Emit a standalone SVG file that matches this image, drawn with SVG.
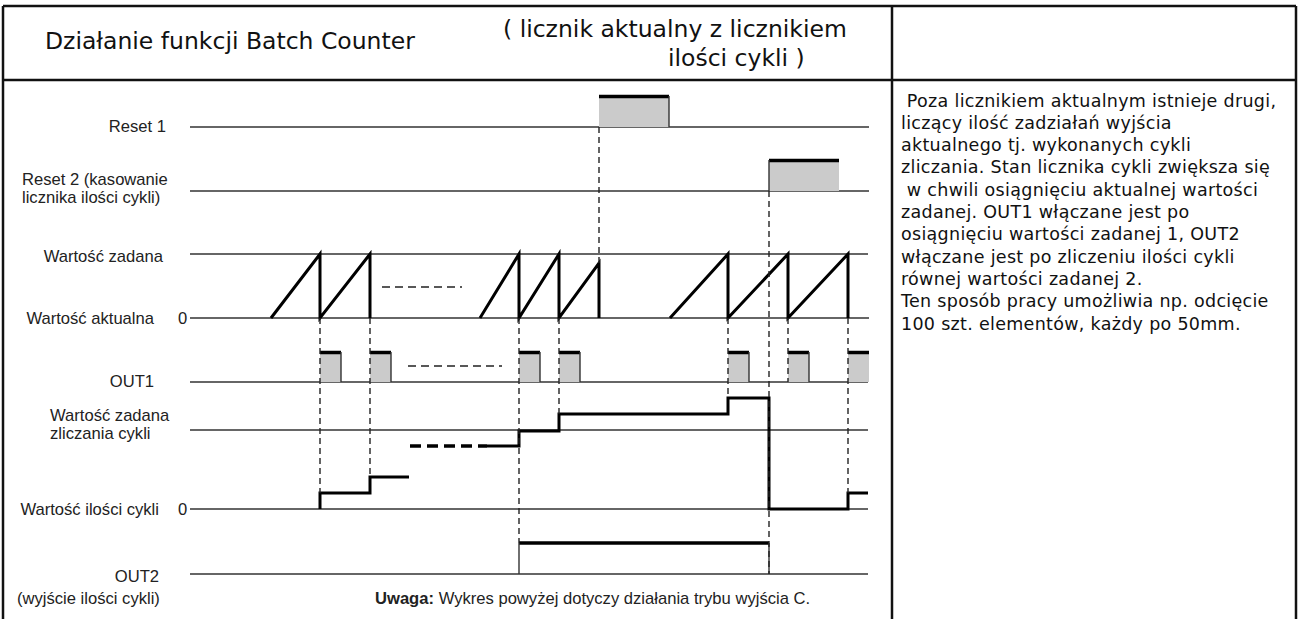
<svg xmlns="http://www.w3.org/2000/svg" width="1304" height="619" viewBox="0 0 1304 619">
<style>
.frame{stroke:#111;stroke-width:2.5;fill:none}
.axis{stroke:#333;stroke-width:1.5;fill:none}
.wave{stroke:#000;stroke-width:3;fill:none;stroke-linejoin:miter}
.thin{stroke:#222;stroke-width:1.4;fill:none;stroke-dasharray:8 5}
.tdash{stroke:#000;stroke-width:3.5;fill:none;stroke-dasharray:11 6}
.dash{stroke:#222;stroke-width:1.4;fill:none;stroke-dasharray:6 4}
.pfill{fill:#cbcbcb}
.ptop{stroke:#000;stroke-width:3.5}
.pedge{stroke:#333;stroke-width:1.4}
.lbl{font-family:"Liberation Sans",Arial,sans-serif;font-size:16.6px;fill:#222}
.head{font-family:"DejaVu Sans",Verdana,sans-serif;font-size:23.5px;fill:#111}
.desc{font-family:"DejaVu Sans",Verdana,sans-serif;font-size:17.5px;letter-spacing:0.3px;fill:#111}
</style>
<rect x="0" y="0" width="1304" height="619" fill="#fff"/>
<g id="frame">
<line class="frame" x1="3" y1="6" x2="1296" y2="6"/>
<line class="frame" x1="3" y1="80" x2="1296" y2="80"/>
<line class="frame" x1="3" y1="6" x2="3" y2="619"/>
<line class="frame" x1="892" y1="6" x2="892" y2="619"/>
<line class="frame" x1="1296" y1="6" x2="1296" y2="619"/>
</g>
<g id="header">
<text class="head" x="45" y="49">Działanie funkcji Batch Counter</text>
<text class="head" x="503" y="37">( licznik aktualny z licznikiem</text>
<text class="head" x="668" y="66">ilości cykli )</text>
</g>
<g id="description" class="desc">
<text x="901" y="106.5" xml:space="preserve"> Poza licznikiem aktualnym istnieje drugi,</text>
<text x="901" y="128.8">liczący ilość zadziałań wyjścia</text>
<text x="901" y="151.1">aktualnego tj. wykonanych cykli</text>
<text x="901" y="173.4">zliczania. Stan licznika cykli zwiększa się</text>
<text x="901" y="195.7" xml:space="preserve"> w chwili osiągnięciu aktualnej wartości</text>
<text x="901" y="218">zadanej. OUT1 włączane jest po</text>
<text x="901" y="240.3">osiągnięciu wartości zadanej 1, OUT2</text>
<text x="901" y="262.6">włączane jest po zliczeniu ilości cykli</text>
<text x="901" y="284.9">równej wartości zadanej 2.</text>
<text x="901" y="307.2">Ten sposób pracy umożliwia np. odcięcie</text>
<text x="901" y="329.5">100 szt. elementów, każdy po 50mm.</text>
</g>
<g id="reset1">
<text class="lbl" x="166" y="132" text-anchor="end">Reset 1</text>
<line class="axis" x1="190" y1="127" x2="869" y2="127"/>
<rect class="pfill" x="599" y="97" width="70" height="30"/>
<line class="ptop" x1="599" y1="96.5" x2="669" y2="96.5"/>
<line class="pedge" x1="669" y1="96" x2="669" y2="127"/>
</g>
<g id="reset2">
<text class="lbl" x="22" y="185">Reset 2 (kasowanie</text>
<text class="lbl" x="22" y="203">licznika ilości cykli)</text>
<line class="axis" x1="190" y1="191" x2="869" y2="191"/>
<rect class="pfill" x="769" y="161" width="70" height="30"/>
<line class="ptop" x1="769" y1="160.5" x2="839" y2="160.5"/>
<line class="pedge" x1="769" y1="160" x2="769" y2="191"/>
</g>
<g id="wartosc-zadana">
<text class="lbl" x="163" y="262" text-anchor="end">Wartość zadana</text>
<line class="axis" x1="190" y1="254" x2="868" y2="254"/>
</g>
<g id="wartosc-aktualna">
<text class="lbl" x="154" y="324" text-anchor="end">Wartość aktualna</text>
<text class="lbl" x="178" y="324">0</text>
<line class="axis" x1="190" y1="318" x2="869" y2="318"/>
<path class="wave" d="M271,318 L320,254 L320,318 L370,254 L370,318"/>
<line class="thin" x1="382" y1="287" x2="462" y2="287"/>
<path class="wave" d="M480,318 L519,254 L519,318 L559,254 L559,318 L599,263 L599,318"/>
<path class="wave" d="M670,318 L728,254 L728,318 L788,254 L788,318 L848,254 L848,318"/>
</g>
<g id="out1">
<text class="lbl" x="154" y="387" text-anchor="end">OUT1</text>
<line class="axis" x1="190" y1="382" x2="868" y2="382"/>
<g>
<rect class="pfill" x="320" y="353" width="21" height="29"/>
<rect class="pfill" x="370" y="353" width="21" height="29"/>
<rect class="pfill" x="519" y="353" width="21" height="29"/>
<rect class="pfill" x="559" y="353" width="21" height="29"/>
<rect class="pfill" x="728" y="353" width="21" height="29"/>
<rect class="pfill" x="788" y="353" width="21" height="29"/>
<rect class="pfill" x="848" y="353" width="21" height="29"/>
</g>
<path class="ptop" d="M320,352.5 H341 M370,352.5 H391 M519,352.5 H540 M559,352.5 H580 M728,352.5 H749 M788,352.5 H809 M848,352.5 H869"/>
<path class="pedge" d="M341,352 V382 M391,352 V382 M540,352 V382 M580,352 V382 M749,352 V382 M809,352 V382"/>
<line class="thin" x1="408" y1="366" x2="502" y2="366"/>
</g>
<g id="wartosc-zadana-cykli">
<text class="lbl" x="50" y="421">Wartość zadana</text>
<text class="lbl" x="50" y="439">zliczania cykli</text>
<line class="axis" x1="190" y1="430" x2="868" y2="430"/>
</g>
<g id="wartosc-ilosci-cykli">
<text class="lbl" x="159" y="515" text-anchor="end">Wartość ilości cykli</text>
<text class="lbl" x="178" y="515">0</text>
<line class="axis" x1="190" y1="509" x2="868" y2="509"/>
<path class="wave" d="M320,509 V493 H370 V477 H409"/>
<line class="tdash" x1="410" y1="446" x2="487" y2="446"/>
<path class="wave" d="M487,446 H519 V431 H559 V414 H728 V398 H769 V509 H848 V493 H868"/>
</g>
<g id="out2">
<text class="lbl" x="159" y="582" text-anchor="end">OUT2</text>
<text class="lbl" x="17" y="604">(wyjście ilości  cykli)</text>
<line class="axis" x1="190" y1="574" x2="868" y2="574"/>
<line class="ptop" x1="519" y1="543" x2="769" y2="543"/>
<line class="pedge" x1="519" y1="543" x2="519" y2="574" stroke="#888"/>
<line class="pedge" x1="769" y1="543" x2="769" y2="574"/>
</g>
<g id="connectors">
<line class="dash" x1="320" y1="318" x2="320" y2="493"/>
<line class="dash" x1="370" y1="318" x2="370" y2="477"/>
<line class="dash" x1="519" y1="318" x2="519" y2="543"/>
<line class="dash" x1="559" y1="318" x2="559" y2="414"/>
<line class="dash" x1="599" y1="127" x2="599" y2="263"/>
<line class="dash" x1="728" y1="318" x2="728" y2="398"/>
<line class="dash" x1="769" y1="191" x2="769" y2="574"/>
<line class="dash" x1="788" y1="318" x2="788" y2="382"/>
<line class="dash" x1="848" y1="318" x2="848" y2="493"/>
</g>
<g id="note">
<text class="lbl" x="375" y="604"><tspan font-weight="bold">Uwaga:</tspan> Wykres powyżej dotyczy działania trybu wyjścia C.</text>
</g>
</svg>
